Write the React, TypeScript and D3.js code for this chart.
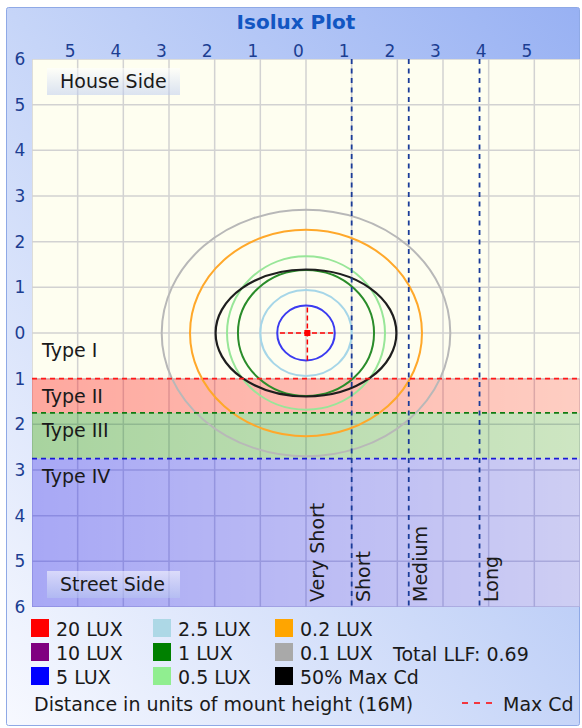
import React, { useEffect, useRef } from "react";
import * as d3 from "d3";

// axis ticks (distance in mount heights)
const xTickValues = [-5, -4, -3, -2, -1, 0, 1, 2, 3, 4, 5];
const yTickValues = [6, 5, 4, 3, 2, 1, 0, -1, -2, -3, -4, -5, -6];

// isolux contours (semi axes in mount heights)
const contourNames = ["0.1 LUX", "0.2 LUX", "0.5 LUX", "1 LUX", "2.5 LUX", "5 LUX", "50% Max Cd"];
const contourRx = [3.16, 2.54, 1.73, 1.49, 1.0, 0.63, 1.98];
const contourRy = [2.7, 2.26, 1.68, 1.38, 0.94, 0.6, 1.39];

// lateral distribution types, boundaries toward street side
const typeNames = ["Type I", "Type II", "Type III", "Type IV"];
const typeStarts = [0, 1, 1.75, 2.75];
const typeEnd = 6;

// vertical throw classification
const throwNames = ["Very Short", "Short", "Medium", "Long"];
const throwStarts = [0, 1, 2.25, 3.8];

// max candela point
const maxCd = { x: 0.03, y: 0, spread: 0.6 };

const legendLabels = ["20 LUX", "10 LUX", "5 LUX", "2.5 LUX", "1 LUX", "0.5 LUX", "0.2 LUX", "0.1 LUX", "50% Max Cd"];
const legendColors = ["#ff0000", "#800080", "#0000ff", "#add8e6", "#008000", "#90ee90", "#ffa500", "#a9a9a9", "#000000"];
const contourColors: Record<string, string> = {
  "5 LUX": "#3b3bf0",
  "2.5 LUX": "#a6d6e8",
  "1 LUX": "#2a8c2a",
  "0.5 LUX": "#98e698",
  "0.2 LUX": "#ffa82a",
  "0.1 LUX": "#b8b8b8",
  "50% Max Cd": "#1e1e1e",
};

const FONT = "DejaVu Sans, Verdana, sans-serif";

const IsoluxPlot = () => {
  const ref = useRef<SVGSVGElement>(null);
  const width = 582;
  const height = 728;
  const plot = { left: 32, right: 580, top: 59, bottom: 607 };

  useEffect(() => {
    drawChart();
  }, []);

  function drawChart() {
    const svg = d3.select(ref.current);
    svg.selectAll("*").remove();

    const x = d3.scaleLinear().domain([-6, 6]).range([plot.left, plot.right]);
    const y = d3.scaleLinear().domain([6, -6]).range([plot.top, plot.bottom]);

    const defs = svg.append("defs");

    // frame gradient: blue top right, almost white bottom left
    const fg = defs
      .append("linearGradient")
      .attr("id", "frameGrad")
      .attr("x1", 1)
      .attr("y1", 0)
      .attr("x2", 0)
      .attr("y2", 1);
    fg.append("stop").attr("offset", 0).attr("stop-color", "#98b1f3");
    fg.append("stop").attr("offset", 0.5).attr("stop-color", "#c6d5f8");
    fg.append("stop").attr("offset", 1).attr("stop-color", "#f7f9ff");

    const bandColors = ["none", "#ff0000", "#008000", "#0000ff"];
    bandColors.forEach((c, i) => {
      if (c === "none") return;
      const g = defs.append("linearGradient").attr("id", `band${i}`);
      g.append("stop").attr("offset", 0).attr("stop-color", c).attr("stop-opacity", 0.34);
      g.append("stop").attr("offset", 1).attr("stop-color", c).attr("stop-opacity", 0.19);
    });

    const lg = defs
      .append("linearGradient")
      .attr("id", "labelGrad")
      .attr("x1", 0)
      .attr("y1", 0)
      .attr("x2", 0)
      .attr("y2", 1);
    lg.append("stop").attr("offset", 0).attr("stop-color", "#ffffff").attr("stop-opacity", 0.55);
    lg.append("stop").attr("offset", 1).attr("stop-color", "#b8c8f0").attr("stop-opacity", 0.5);

    defs
      .append("clipPath")
      .attr("id", "plotClip")
      .append("rect")
      .attr("x", plot.left)
      .attr("y", plot.top)
      .attr("width", plot.right - plot.left)
      .attr("height", plot.bottom - plot.top);

    // outer frame
    svg
      .append("rect")
      .attr("x", 6.5)
      .attr("y", 7.5)
      .attr("width", 573)
      .attr("height", 718)
      .attr("rx", 2)
      .attr("fill", "url(#frameGrad)")
      .attr("stroke", "#8fa9e6");

    svg
      .append("text")
      .attr("x", 296)
      .attr("y", 29)
      .attr("text-anchor", "middle")
      .attr("font-family", FONT)
      .attr("font-weight", "bold")
      .attr("font-size", 20)
      .attr("fill", "#1256c2")
      .text("Isolux Plot");

    const g = svg.append("g").attr("clip-path", "url(#plotClip)");

    g.append("rect")
      .attr("x", plot.left)
      .attr("y", plot.top)
      .attr("width", plot.right - plot.left)
      .attr("height", plot.bottom - plot.top)
      .attr("fill", "#fefef0");

    // grid
    const gridVals = d3.range(-6, 7);
    g.selectAll(".vgrid")
      .data(gridVals)
      .join("line")
      .attr("x1", (d) => x(d))
      .attr("x2", (d) => x(d))
      .attr("y1", plot.top)
      .attr("y2", plot.bottom)
      .attr("stroke", "#d2d2d2")
      .attr("stroke-width", 1.5);
    g.selectAll(".hgrid")
      .data(gridVals)
      .join("line")
      .attr("y1", (d) => y(d))
      .attr("y2", (d) => y(d))
      .attr("x1", plot.left)
      .attr("x2", plot.right)
      .attr("stroke", "#d2d2d2")
      .attr("stroke-width", 1.5);

    // type bands
    typeStarts.forEach((s, i) => {
      if (i === 0) return;
      const e = i < typeStarts.length - 1 ? typeStarts[i + 1] : typeEnd;
      g.append("rect")
        .attr("x", plot.left)
        .attr("width", plot.right - plot.left)
        .attr("y", y(-s))
        .attr("height", y(-e) - y(-s))
        .attr("fill", `url(#band${i})`);
    });

    // contours
    contourNames.forEach((name, i) => {
      g.append("ellipse")
        .attr("cx", x(0))
        .attr("cy", y(0))
        .attr("rx", x(contourRx[i]) - x(0))
        .attr("ry", y(0) - y(contourRy[i]))
        .attr("fill", "none")
        .attr("stroke", contourColors[name])
        .attr("stroke-width", name === "50% Max Cd" ? 2.2 : 2);
    });

    // type boundary lines
    const lineColors = ["", "#ff1a1a", "#107a10", "#1a1ad6"];
    typeStarts.forEach((s, i) => {
      if (i === 0) return;
      g.append("line")
        .attr("x1", plot.left)
        .attr("x2", plot.right)
        .attr("y1", y(-s))
        .attr("y2", y(-s))
        .attr("stroke", lineColors[i])
        .attr("stroke-width", 1.6)
        .attr("stroke-dasharray", "5,4");
    });

    // throw boundary lines
    throwStarts.slice(1).forEach((s) => {
      g.append("line")
        .attr("x1", x(s))
        .attr("x2", x(s))
        .attr("y1", plot.top)
        .attr("y2", plot.bottom)
        .attr("stroke", "#1b3c99")
        .attr("stroke-width", 1.8)
        .attr("stroke-dasharray", "5,4.5");
    });

    // max candela cross
    g.append("line")
      .attr("x1", x(maxCd.x - maxCd.spread))
      .attr("x2", x(maxCd.x + maxCd.spread))
      .attr("y1", y(maxCd.y))
      .attr("y2", y(maxCd.y))
      .attr("stroke", "#ff0000")
      .attr("stroke-width", 1.5)
      .attr("stroke-dasharray", "5,3");
    g.append("line")
      .attr("y1", y(maxCd.y - maxCd.spread))
      .attr("y2", y(maxCd.y + maxCd.spread))
      .attr("x1", x(maxCd.x))
      .attr("x2", x(maxCd.x))
      .attr("stroke", "#ff0000")
      .attr("stroke-width", 1.5)
      .attr("stroke-dasharray", "5,3");
    g.append("rect")
      .attr("x", x(maxCd.x) - 3)
      .attr("y", y(maxCd.y) - 3)
      .attr("width", 6)
      .attr("height", 6)
      .attr("fill", "#ff0000");

    // type labels
    typeNames.forEach((t, i) => {
      g.append("text")
        .attr("x", 42)
        .attr("y", y(-typeStarts[i]) + 24)
        .attr("font-family", FONT)
        .attr("font-size", 19)
        .attr("fill", "#1a1a1a")
        .text(t);
    });

    // throw labels (rotated)
    throwNames.forEach((t, i) => {
      g.append("text")
        .attr("transform", `translate(${x(throwStarts[i]) + 18}, 602) rotate(-90)`)
        .attr("font-family", FONT)
        .attr("font-size", 19)
        .attr("fill", "#1a1a1a")
        .text(t);
    });

    // house / street side labels
    const sides = [
      { text: "House Side", top: 68 },
      { text: "Street Side", top: 571 },
    ];
    sides.forEach((s) => {
      g.append("rect")
        .attr("x", 47)
        .attr("y", s.top)
        .attr("width", 133)
        .attr("height", 27)
        .attr("fill", "url(#labelGrad)");
      g.append("text")
        .attr("x", 60)
        .attr("y", s.top + 20)
        .attr("font-family", FONT)
        .attr("font-size", 19)
        .attr("fill", "#1a1a1a")
        .text(s.text);
    });

    // axis tick labels
    svg
      .selectAll(".xt")
      .data(xTickValues)
      .join("text")
      .attr("x", (d) => x(d) - 7.5)
      .attr("y", 57)
      .attr("text-anchor", "middle")
      .attr("font-family", FONT)
      .attr("font-size", 17)
      .attr("fill", "#1c3e92")
      .text((d) => Math.abs(d));
    svg
      .selectAll(".yt")
      .data(yTickValues)
      .join("text")
      .attr("x", 20)
      .attr("y", (d) => y(d) + 6)
      .attr("text-anchor", "middle")
      .attr("font-family", FONT)
      .attr("font-size", 17)
      .attr("fill", "#1c3e92")
      .text((d) => Math.abs(d));

    // legend, three rows per column
    const legend = svg.append("g");
    legendLabels.forEach((label, i) => {
      const col = Math.floor(i / 3);
      const row = i % 3;
      const lx = 31 + col * 122;
      const ly = 619 + row * 24;
      legend
        .append("rect")
        .attr("x", lx)
        .attr("y", ly)
        .attr("width", 18)
        .attr("height", 18)
        .attr("fill", legendColors[i]);
      legend
        .append("text")
        .attr("x", lx + 25)
        .attr("y", ly + 17)
        .attr("font-family", FONT)
        .attr("font-size", 19)
        .attr("fill", "#1a1a1a")
        .text(label);
    });

    legend
      .append("text")
      .attr("x", 393)
      .attr("y", 661)
      .attr("font-family", FONT)
      .attr("font-size", 19)
      .attr("fill", "#1a1a1a")
      .text("Total LLF: 0.69");

    legend
      .append("text")
      .attr("x", 34)
      .attr("y", 711)
      .attr("font-family", FONT)
      .attr("font-size", 19)
      .attr("fill", "#1a1a1a")
      .text("Distance in units of mount height (16M)");

    legend
      .append("line")
      .attr("x1", 462)
      .attr("x2", 493)
      .attr("y1", 703)
      .attr("y2", 703)
      .attr("stroke", "#ff0000")
      .attr("stroke-width", 1.5)
      .attr("stroke-dasharray", "6,6");

    legend
      .append("text")
      .attr("x", 503)
      .attr("y", 711)
      .attr("font-family", FONT)
      .attr("font-size", 19)
      .attr("fill", "#1a1a1a")
      .text("Max Cd");
  }

  return (
    <svg
      ref={ref}
      width={width}
      height={height}
      style={{ position: "absolute", left: 0, top: 0 }}
    />
  );
};

export default function App() {
  return <IsoluxPlot />;
}
